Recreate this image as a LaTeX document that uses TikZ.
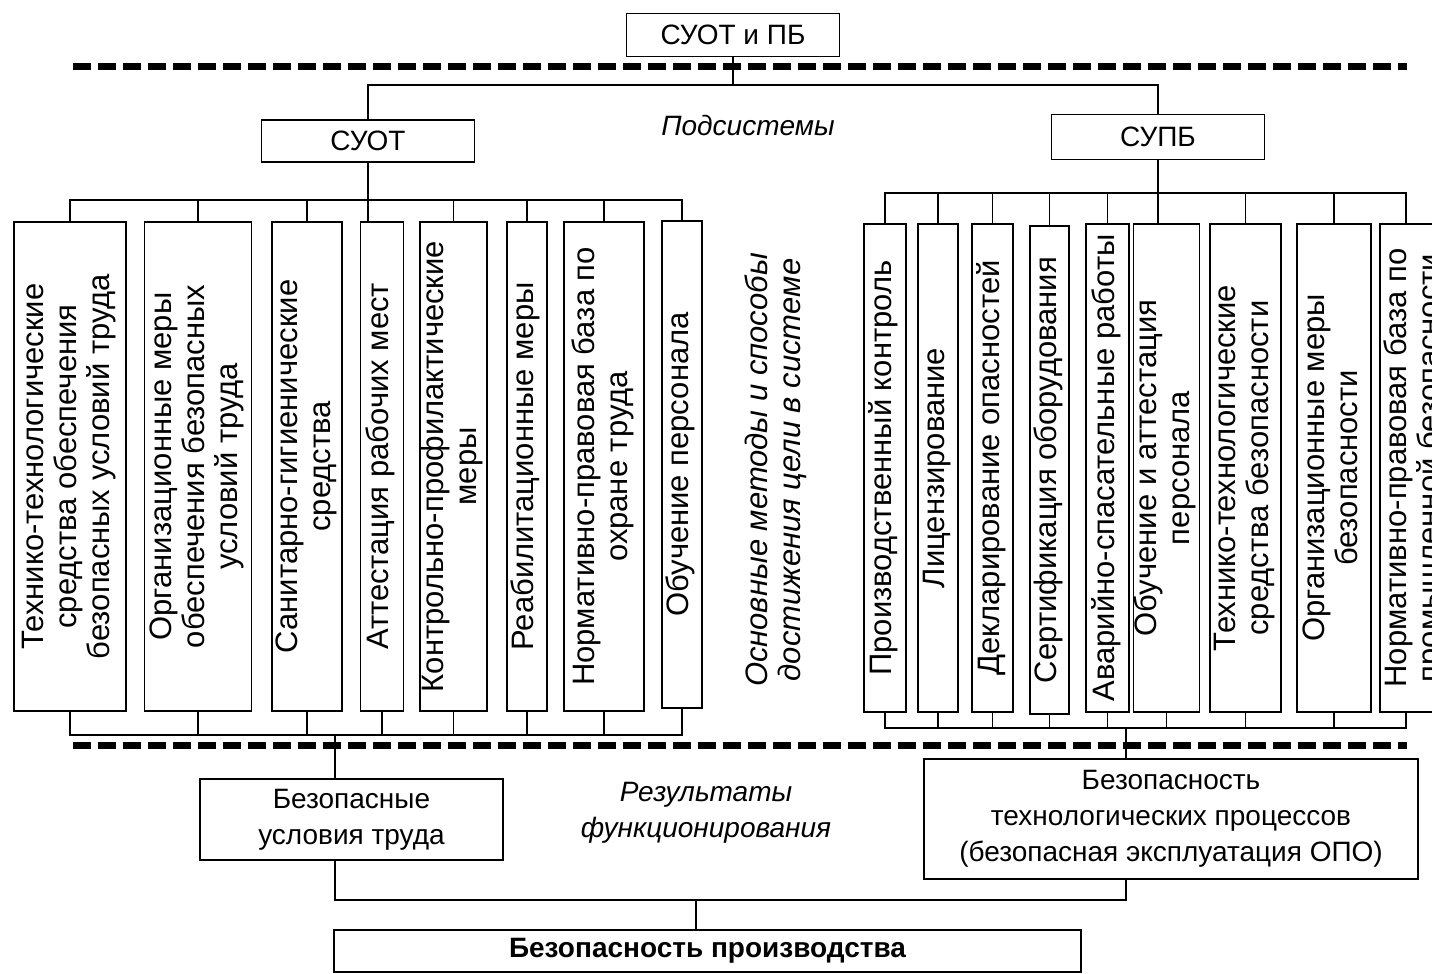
\documentclass[tikz,border=0pt]{standalone}
\usepackage{fontspec}
\setmainfont{Liberation Sans}
\usetikzlibrary{calc}
% vertical (bottom-to-top) multi-line label
\newcommand\vlabel[1]{\rotatebox{90}{\fontsize{31}{33}\selectfont\begin{tabular}{@{}c@{}}#1\end{tabular}}}
\begin{document}
\begin{tikzpicture}[x=1pt,y=-1pt,
  every node/.style={inner sep=0pt, outer sep=0pt},
  box/.style={draw, line width=1.8pt, fill=white, align=center,
              font=\fontsize{28}{36}\selectfont},
  vbox/.style={draw, line width=1.8pt, fill=white},
  link/.style={line width=1.8pt},
  sep/.style={line width=7pt, dash pattern=on 18pt off 7pt},
  note/.style={font=\fontsize{28}{36}\selectfont\itshape, align=center},
  vnote/.style={font=\fontsize{31}{33}\selectfont\itshape, align=center, rotate=90}
]
\useasboundingbox (0,0) rectangle (1432,974);
\begin{scope}
\clip (0,0) rectangle (1432,974);

% ---- level separators
\coordinate (sepTl) at (73,67);   \coordinate (sepTr) at (1407,67);
\coordinate (sepBl) at (73,745);  \coordinate (sepBr) at (1407,745);

% ---- junction rows
\coordinate (busTop) at (0,85);
\coordinate (busL) at (0,200);
\coordinate (busR) at (0,193);
\coordinate (busLb) at (0,735);
\coordinate (busRb) at (0,728);
\coordinate (jL) at (335,735);
\coordinate (jR) at (1126,728);
\coordinate (jF) at (696,900);

% ---- top level
\node[box, minimum width=213pt, minimum height=43pt] (top) at (733,35) {СУОТ и ПБ};
\node[box, minimum width=213pt, minimum height=42pt] (suot) at (368,141) {СУОТ};
\node[box, minimum width=213pt, minimum height=45pt] (supb) at (1158,137) {СУПБ};
\node[note] (subsys) at (748,125) {Подсистемы};

% ---- labour-safety subsystem measures
\node[vbox, minimum width=112pt, minimum height=489pt] (t1) at (70,466.5)
  {\vlabel{Технико-технологические\\средства обеспечения\\безопасных условий труда}};
\node[vbox, minimum width=107pt, minimum height=489pt] (t2) at (198,466.5)
  {\vlabel{Организационные меры\\обеспечения безопасных\\условий труда}};
\node[vbox, minimum width=70pt, minimum height=489pt] (t3) at (307,466.5)
  {\vlabel{Санитарно-гигиенические\\средства}};
\node[vbox, minimum width=43pt, minimum height=489pt] (t4) at (382,466.5)
  {\vlabel{Аттестация рабочих мест}};
\node[vbox, minimum width=67pt, minimum height=489pt] (t5) at (453.5,466.5)
  {\vlabel{Контрольно-профилактические\\меры}};
\node[vbox, minimum width=40pt, minimum height=489pt] (t6) at (527,466.5)
  {\vlabel{Реабилитационные меры}};
\node[vbox, minimum width=80pt, minimum height=489pt] (t7) at (604,466.5)
  {\vlabel{Нормативно-правовая база по\\охране труда}};
\node[vbox, minimum width=40pt, minimum height=487pt] (t8) at (682,464.5)
  {\vlabel{Обучение персонала}};

% ---- industrial-safety subsystem measures
\node[vbox, minimum width=42pt, minimum height=488pt] (r1) at (885,468)
  {\vlabel{Производственный контроль}};
\node[vbox, minimum width=40pt, minimum height=488pt] (r2) at (938,468)
  {\vlabel{Лицензирование}};
\node[vbox, minimum width=41pt, minimum height=488pt] (r3) at (992.5,468)
  {\vlabel{Декларирование опасностей}};
\node[vbox, minimum width=39pt, minimum height=488pt] (r4) at (1049.5,470)
  {\vlabel{Сертификация оборудования}};
\node[vbox, minimum width=43pt, minimum height=488pt] (r5) at (1107.5,468)
  {\vlabel{Аварийно-спасательные работы}};
\node[vbox, minimum width=65pt, minimum height=488pt] (r6) at (1166.5,468)
  {\vlabel{Обучение и аттестация\\персонала}};
\node[vbox, minimum width=71pt, minimum height=488pt] (r7) at (1245.5,468)
  {\vlabel{Технико-технологические\\средства безопасности}};
\node[vbox, minimum width=74pt, minimum height=488pt] (r8) at (1334,468)
  {\vlabel{Организационные меры\\безопасности}};
\node[vbox, minimum width=72pt, minimum height=488pt] (r9) at (1416,468)
  {\vlabel{Нормативно-правовая база по\\промышленной безопасности}};

\node[vnote] (methods) at (776,470)
  {Основные методы и способы\\достижения цели в системе};

% ---- results
\node[box, minimum width=303pt, minimum height=81pt] (res1) at (351.5,819.5)
  {Безопасные\\условия труда};
\node[box, minimum width=494pt, minimum height=120pt] (res2) at (1171,819)
  {Безопасность\\технологических процессов\\(безопасная эксплуатация ОПО)};
\node[note] (results) at (706,813) {Результаты\\функционирования};
\node[box, minimum width=747pt, minimum height=42pt, font=\fontsize{28}{36}\selectfont\bfseries]
  (final) at (707.5,951) {Безопасность производства};

% ---- separators
\draw[sep] (sepTl) -- (sepTr);
\draw[sep] (sepBl) -- (sepBr);

% ---- connectors: top level
\draw[link] (top.south) -- (top.south |- busTop);
\draw[link] (suot.north) |- (supb.north |- busTop) -- (supb.north);

% ---- connectors: labour-safety branch
\draw[link] (suot.south) -- (suot.south |- t4.north);
\draw[link] (t1.north) |- (t8.north |- busL) -- (t8.north);
\foreach \n in {t2,t3,t5,t6,t7} \draw[link] (\n.north) -- (\n.north |- busL);
\draw[link] (t1.south) |- (t8.south |- busLb) -- (t8.south);
\foreach \n in {t2,t3,t4,t5,t6,t7} \draw[link] (\n.south) -- (\n.south |- busLb);

% ---- connectors: industrial-safety branch
\coordinate (r9top) at ($(r9.north west)+(26,0)$);
\coordinate (r9bot) at ($(r9.south west)+(26,0)$);
\draw[link] (supb.south) -- (supb.south |- r6.north);
\draw[link] (r1.north) |- (r9top |- busR) -- (r9top);
\foreach \n in {r2,r3,r4,r5,r7,r8} \draw[link] (\n.north) -- (\n.north |- busR);
\draw[link] (r1.south) |- (r9bot |- busRb) -- (r9bot);
\foreach \n in {r2,r3,r4,r5,r6,r7,r8} \draw[link] (\n.south) -- (\n.south |- busRb);

% ---- connectors: results
\draw[link] (jL) -- (jL |- res1.north);
\draw[link] (jR) -- (jR |- res2.north);
\draw[link] (jL |- res1.south) |- (jF) -| (jR |- res2.south);
\draw[link] (jF) -- (jF |- final.north);
\end{scope}
\end{tikzpicture}
\end{document}
